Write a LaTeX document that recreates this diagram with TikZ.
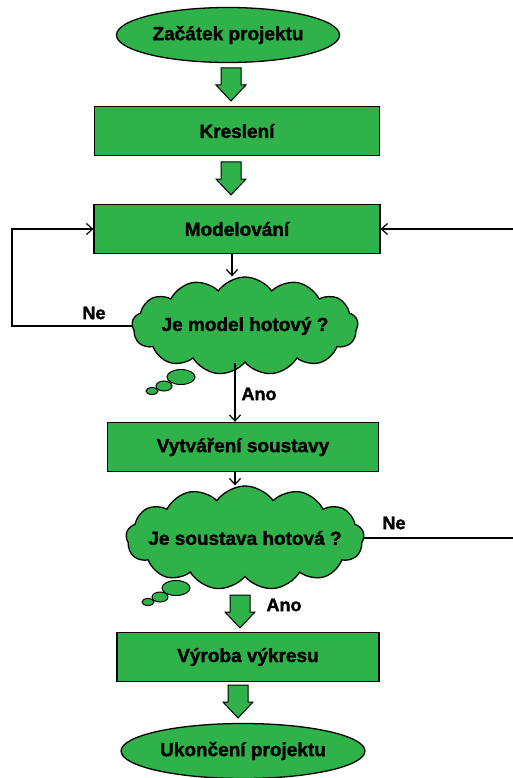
\documentclass[tikz,border=0pt]{standalone}
\usepackage{fontspec}
\setmainfont{Liberation Sans}[BoldFeatures={FakeBold=1.6}]
\usetikzlibrary{arrows.meta,shapes.geometric,shapes.symbols}

\definecolor{boxgreen}{RGB}{48,178,74}

\tikzset{
    box/.style={draw, line width=1.3pt, fill=boxgreen, minimum width=#1, minimum height=49pt},
    terminal/.style={draw, line width=1.3pt, fill=boxgreen, ellipse, minimum width=#1, minimum height=55pt},
    question/.style={draw, line width=1.3pt, fill=boxgreen, cloud, cloud ignores aspect, cloud puffs=13, cloud puff arc=110, minimum width=#1, inner xsep=-22pt, inner ysep=0pt},
    bubble/.style={draw, line width=1pt, fill=boxgreen, ellipse, inner sep=0pt},
    label/.style={font=\bfseries\fontsize{18}{20}\selectfont},
    line/.style={line width=1.2pt, -{Straight Barb[length=6pt,width=11pt,line width=1.2pt]}},
    pics/downarrow/.style={code={
        \draw[line width=1pt, fill=boxgreen] (-10,0) -- (10,0) -- (10,17) -- (15,17) -- (0,33) -- (-15,17) -- (-10,17) -- cycle;
    }}
}

\begin{document}
\begin{tikzpicture}[x=1pt, y=-1pt, font=\bfseries\fontsize{19}{21}\selectfont]
    \useasboundingbox (0,0) rectangle (512,778);

    % Nodes
    \node [terminal=210pt]  (start)  at (228,35)  {Začátek projektu};
    \node [box=285pt]       (kresl)  at (237,131) {Kreslení};
    \node [box=286pt]       (model)  at (237,229) {Modelování};
    \node [question=226pt, minimum height=98pt]  (qmodel) at (245,326) {Je model hotový ?};
    \node [question=238pt, minimum height=104pt] (qsest)  at (245,538) {Je soustava hotová ?};
    \node [box=271pt]       (sest)   at (243,447) {Vytváření soustavy};
    \node [box=262pt]       (vykres) at (248,657) {Výroba výkresu};
    \node [terminal=217pt]  (konec)  at (243,751) {Ukončení projektu};

    % thought bubbles
    \node [bubble, minimum width=28pt, minimum height=15pt] (b1) at (181,377) {};
    \node [bubble, minimum width=16pt, minimum height=10pt] (b2) at (164,386) {};
    \node [bubble, minimum width=12pt, minimum height=7pt]  (b3) at (152,391) {};
    \node [bubble, minimum width=28pt, minimum height=15pt] (b4) at (176,588) {};
    \node [bubble, minimum width=16pt, minimum height=10pt] (b5) at (160,597) {};
    \node [bubble, minimum width=12pt, minimum height=7pt]  (b6) at (148,602) {};

    % block arrows
    \pic at (231,68)  {downarrow};
    \pic at (231,162) {downarrow};
    \pic at (240,595) {downarrow};
    \pic at (238,685) {downarrow};

    % Paths
    \coordinate (lft) at (12,0);
    \coordinate (rgt) at (515,0);
    \draw [line] ([xshift=-5pt]model.south) -- ([xshift=-5pt]model.south |- qmodel.north);
    \draw [line] (qmodel.west) -- (qmodel.west -| lft) |- (model.west);
    \draw [line] ([xshift=-10pt]qmodel.south) -- ([xshift=-10pt]qmodel.south |- sest.north);
    \draw [line] ([xshift=-8pt]sest.south) -- ([xshift=-8pt]sest.south |- qsest.north);
    \draw [line width=1.2pt] (qsest.east) -- (qsest.east -| rgt);
    \draw [line] (model.east -| rgt) -- (model.east);

    % Labels
    \node [label] (ne1)  at (94,313)  {Ne};
    \node [label] (ano1) at (259,394) {Ano};
    \node [label] (ne2)  at (394,523) {Ne};
    \node [label] (ano2) at (284,605) {Ano};

\end{tikzpicture}
\end{document}
